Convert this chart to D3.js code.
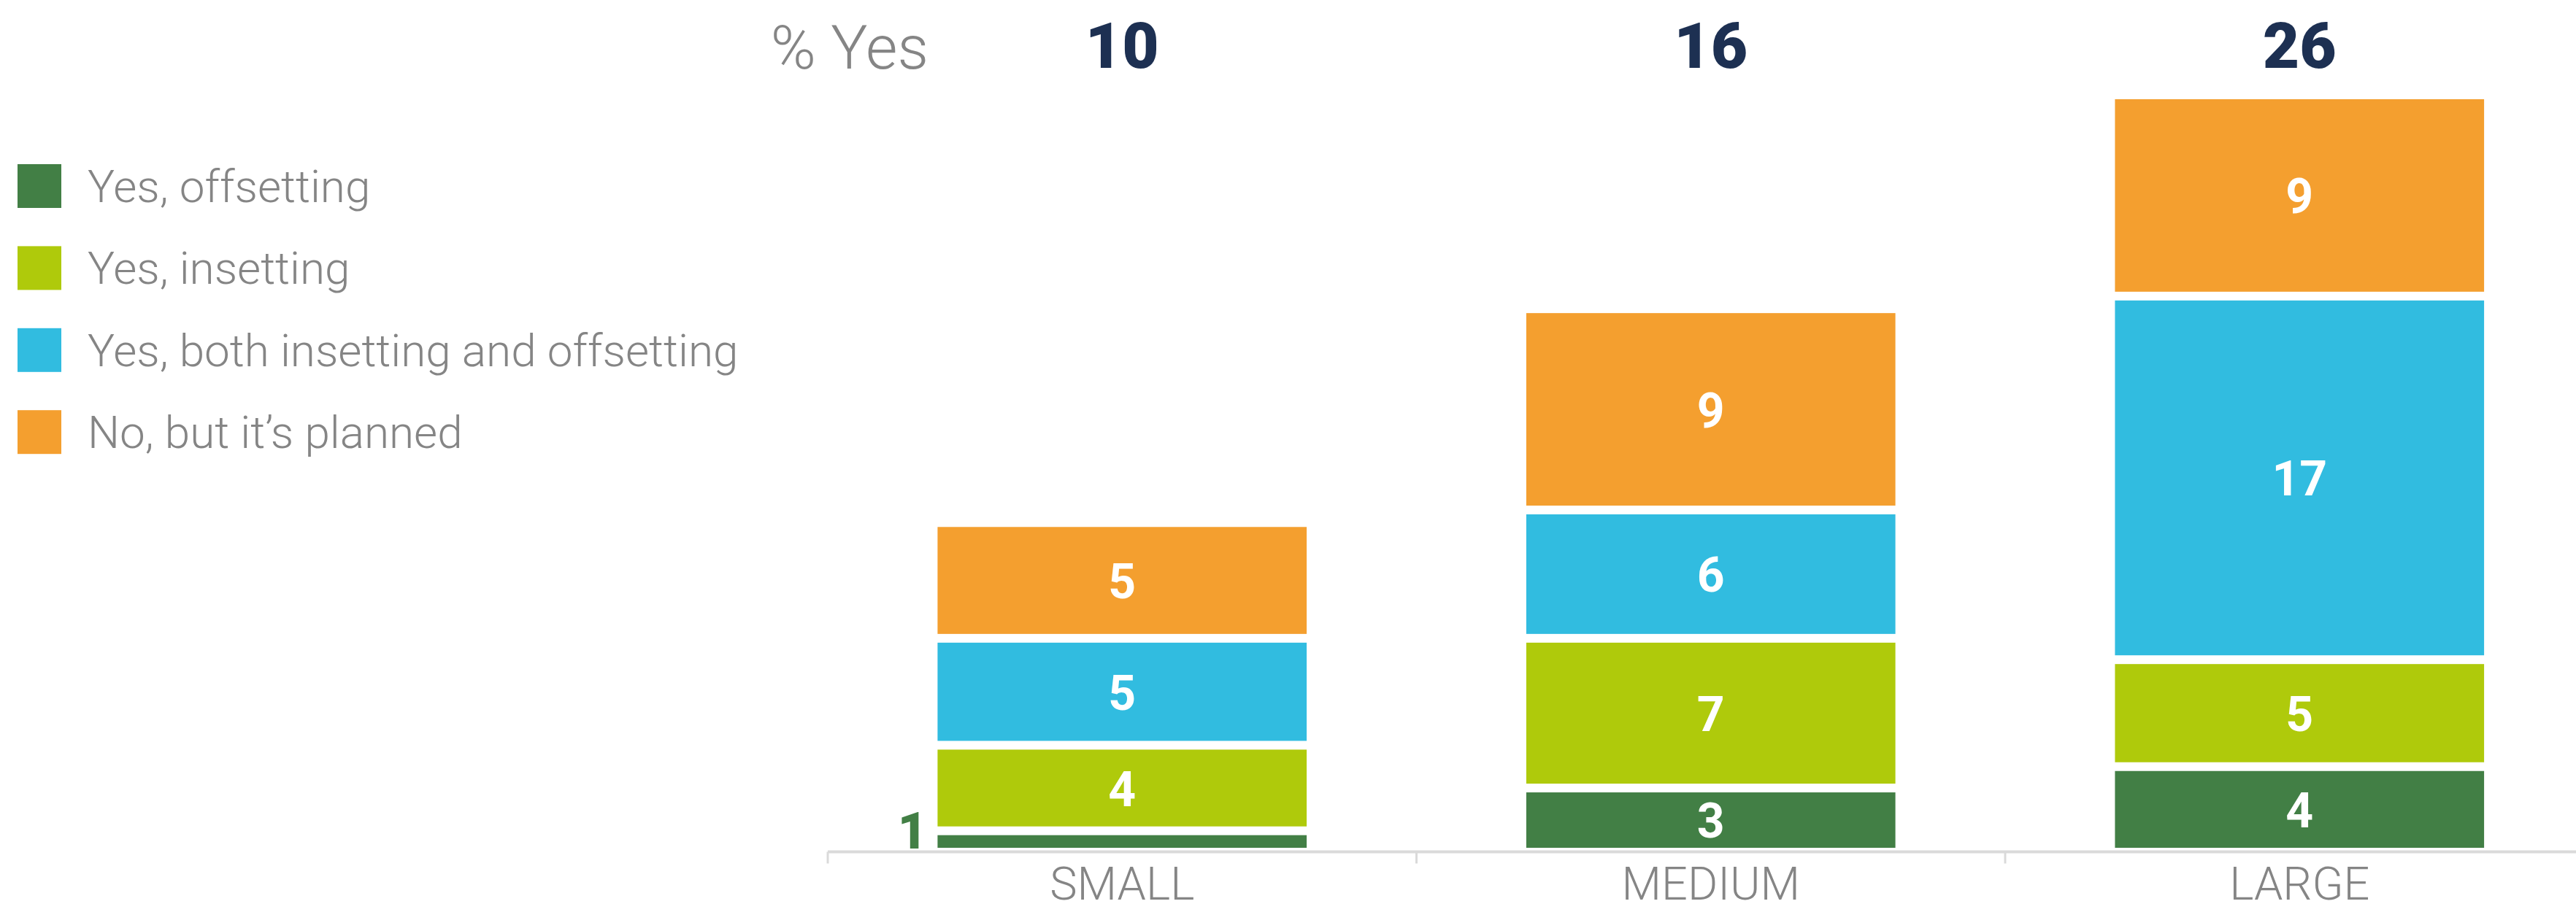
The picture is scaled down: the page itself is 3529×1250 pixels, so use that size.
<!DOCTYPE html>
<html>
<head>
<meta charset="utf-8">
<script src="https://cdn.jsdelivr.net/npm/d3@7/dist/d3.min.js"></script>
<style>
  html, body { margin: 0; padding: 0; background: #ffffff; }
  svg { display: block; }
  text { font-family: Roboto, "Open Sans", sans-serif; }
</style>
</head>
<body>
<svg id="chart" width="3529" height="1250"></svg>
<script>
// Company size groups
const categories = ["SMALL", "MEDIUM", "LARGE"];

// Response series, stacked bottom to top (percent of respondents)
const seriesNames = [
  "Yes, offsetting",
  "Yes, insetting",
  "Yes, both insetting and offsetting",
  "No, but it\u2019s planned"
];
const offsetting = [1, 3, 4];
const insetting  = [4, 7, 5];
const both       = [5, 6, 17];
const planned    = [5, 9, 9];

const seriesColors = ["#427f45", "#afca0b", "#31bce0", "#f49f2f"];

const headerLabel = "% Yes";

// Table built from the arrays above
const keys = ["offsetting", "insetting", "both", "planned"];
const rows = categories.map((c, i) => ({
  category: c,
  offsetting: offsetting[i],
  insetting: insetting[i],
  both: both[i],
  planned: planned[i]
}));
// share answering "yes" in any form
const yesTotals = rows.map(r => r.offsetting + r.insetting + r.both);

const svg = d3.select("#chart");
const W = 3529;

const x = d3.scaleBand()
  .domain(categories)
  .range([1134, 3553.5])
  .paddingInner(0.373)
  .paddingOuter(0.1865);

const y = d3.scaleLinear()
  .domain([0, 35])
  .range([1162, 136]);

const color = d3.scaleOrdinal().domain(keys).range(seriesColors);

const stacked = d3.stack().keys(keys)(rows);
const gap = 12;
const topIndex = keys.length - 1;

// Stacked bars
const layers = svg.append("g").attr("class", "bars")
  .selectAll("g")
  .data(stacked)
  .join("g")
  .attr("fill", d => color(d.key));

layers.selectAll("rect")
  .data(d => d.map(v => ({ key: d.key, idx: d.index, v })))
  .join("rect")
  .attr("x", d => x(d.v.data.category))
  .attr("width", x.bandwidth())
  .attr("y", d => y(d.v[1]) + (d.idx === topIndex ? 0 : gap))
  .attr("height", d => y(d.v[0]) - y(d.v[1]) - (d.idx === topIndex ? 0 : gap));

// Value labels
const labelSize = 66;
const capH = labelSize * 0.711;
layers.selectAll("text")
  .data(d => d.map(v => ({ key: d.key, idx: d.index, v })))
  .join("text")
  .each(function(d) {
    const top = y(d.v[1]) + (d.idx === topIndex ? 0 : gap);
    const bottom = y(d.v[0]);
    const h = bottom - top;
    const val = d.v[1] - d.v[0];
    const t = d3.select(this)
      .attr("font-size", labelSize)
      .attr("font-weight", 700)
      .text(val);
    if (h > capH + 20) {
      t.attr("x", x(d.v.data.category) + x.bandwidth() / 2)
        .attr("y", (top + bottom) / 2 + capH / 2 + 1)
        .attr("text-anchor", "middle")
        .attr("fill", "#ffffff");
    } else {
      // too thin for an inside label: place it beside the bar
      t.attr("x", x(d.v.data.category) - 14)
        .attr("y", bottom + 1)
        .attr("text-anchor", "end")
        .attr("font-size", 70)
        .attr("font-weight", 900)
        .attr("fill", color(d.key));
    }
  });

// Baseline axis with ticks between groups
const axisY = 1167.5;
const axisG = svg.append("g").attr("class", "axis");
axisG.append("line")
  .attr("x1", x.range()[0]).attr("x2", W)
  .attr("y1", axisY).attr("y2", axisY)
  .attr("stroke", "#dadada").attr("stroke-width", 4);
const halfGap = x.step() * x.paddingInner() / 2;
axisG.selectAll("line.tick")
  .data(categories)
  .join("line")
  .attr("class", "tick")
  .attr("x1", d => x(d) - halfGap).attr("x2", d => x(d) - halfGap)
  .attr("y1", axisY).attr("y2", axisY + 16)
  .attr("stroke", "#dadada").attr("stroke-width", 3);
axisG.selectAll("text")
  .data(categories)
  .join("text")
  .attr("x", d => x(d) + x.bandwidth() / 2)
  .attr("y", 1233)
  .attr("text-anchor", "middle")
  .attr("font-size", 63)
  .attr("font-weight", 300)
  .attr("fill", "#858585")
  .text(d => d);

// Header row: share of "yes" per group
svg.append("text")
  .attr("x", 1272)
  .attr("y", 94)
  .attr("text-anchor", "end")
  .attr("font-size", 84)
  .attr("font-weight", 300)
  .attr("fill", "#858585")
  .text(headerLabel);
svg.append("g").selectAll("text")
  .data(categories)
  .join("text")
  .attr("x", d => x(d) + x.bandwidth() / 2)
  .attr("y", 93)
  .attr("text-anchor", "middle")
  .attr("font-size", 87)
  .attr("font-weight", 900)
  .attr("fill", "#1d3052")
  .text((d, i) => yesTotals[i]);

// Legend
const legend = svg.append("g").attr("class", "legend")
  .selectAll("g")
  .data(seriesNames)
  .join("g")
  .attr("transform", (d, i) => `translate(24, ${225 + i * 112.4})`);
legend.append("rect")
  .attr("width", 60).attr("height", 60)
  .attr("fill", (d, i) => seriesColors[i]);
legend.append("text")
  .attr("x", 96).attr("y", 52)
  .attr("font-size", 62)
  .attr("font-weight", 300)
  .attr("fill", "#858585")
  .text(d => d);
</script>
</body>
</html>
